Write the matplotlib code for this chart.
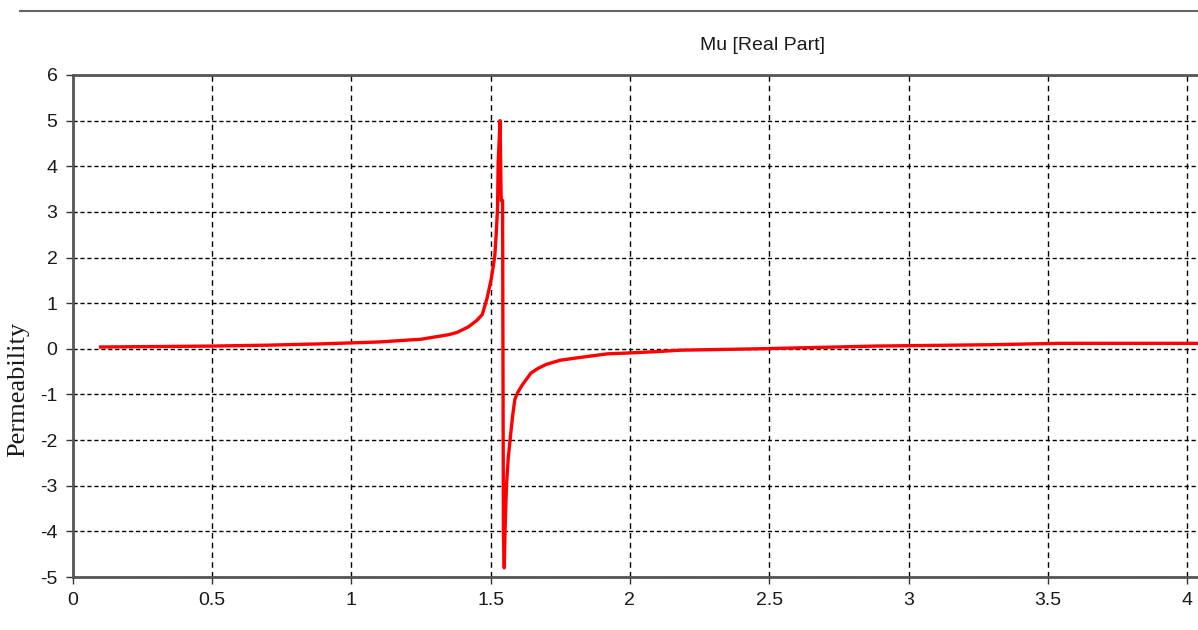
import matplotlib
matplotlib.use('Agg')

import matplotlib.pyplot as plt
from matplotlib.lines import Line2D
from matplotlib.ticker import FormatStrFormatter

# Frequency (x) and real part of permeability
freq = [0.10, 0.30, 0.50, 0.70, 0.90, 1.00, 1.10, 1.20, 1.25, 1.30,
        1.35, 1.38, 1.40, 1.42, 1.45, 1.47, 1.487, 1.503, 1.515, 1.520,
        1.525, 1.527, 1.534, 1.538, 1.543, 1.546, 1.549, 1.552, 1.557, 1.563,
        1.570, 1.579, 1.587, 1.597, 1.615, 1.645, 1.67, 1.70, 1.75, 1.82,
        1.87, 1.92, 2.00, 2.10, 2.18, 2.46, 2.88, 3.30, 3.54, 3.80,
        4.05]
mu_real = [0.04, 0.05, 0.06, 0.08, 0.11, 0.13, 0.15, 0.19, 0.21, 0.26,
           0.31, 0.36, 0.42, 0.48, 0.62, 0.75, 1.10, 1.55, 2.03, 2.50,
           3.10, 4.05, 5.00, 3.25, 3.25, -4.06, -4.80, -3.95, -3.00, -2.42,
           -1.99, -1.47, -1.11, -0.96, -0.78, -0.53, -0.43, -0.34, -0.25, -0.19,
           -0.15, -0.11, -0.09, -0.06, -0.03, 0.00, 0.06, 0.09, 0.12, 0.12,
           0.12]

x_ticks = [0, 0.5, 1, 1.5, 2, 2.5, 3, 3.5, 4]
y_ticks = [-5, -4, -3, -2, -1, 0, 1, 2, 3, 4, 5, 6]

title = "Mu [Real Part]"
y_label = "Permeability"

tick_font = ['Liberation Sans Narrow', 'Liberation Sans', 'DejaVu Sans']
axis_color = '#555555'

fig = plt.figure(figsize=(11.98, 6.30), dpi=100)
# the axes runs past the right edge of the picture, as in the reference
ax = fig.add_axes([72.7 / 1198, 1 - 577 / 630, 1393 / 1198, 502 / 630])

ax.plot(freq, mu_real, color='#ff0000', linewidth=2.4, zorder=3)

ax.set_xlim(0, 5)
ax.set_ylim(-5, 6)
ax.set_xticks(x_ticks)
ax.set_yticks(y_ticks)
ax.xaxis.set_major_formatter(FormatStrFormatter('%g'))
ax.yaxis.set_major_formatter(FormatStrFormatter('%g'))

# dashed grid: longer dashes vertically, short dots horizontally
ax.xaxis.grid(True, color='black', linewidth=1, linestyle=(0, (4, 3)))
ax.yaxis.grid(True, color='black', linewidth=1, linestyle=(0, (3, 2)))
ax.set_axisbelow(True)

for side in ['left', 'top', 'bottom', 'right']:
    ax.spines[side].set_color(axis_color)
    ax.spines[side].set_linewidth(2)

ax.tick_params(direction='out', length=5, width=1, color='#333333',
               labelsize=14, pad=6)
for lbl in ax.get_xticklabels() + ax.get_yticklabels():
    lbl.set_family(tick_font)
    lbl.set_color('#1a1a1a')

fig.text(18 / 1198, 1 - 389 / 630, y_label, rotation=90, ha='center', va='center',
         family=['Liberation Serif', 'DejaVu Serif'], fontsize=19, color='#1a1a1a')

fig.text(762 / 1198, 1 - 45 / 630, title, ha='center', va='center',
         family=tick_font, fontsize=14, color='#1a1a1a')

# thin separator line at the top of the panel
fig.add_artist(Line2D([20 / 1198, 1.0], [1 - 11 / 630, 1 - 11 / 630],
                      transform=fig.transFigure, color='#666666', linewidth=1.5))

plt.savefig('out.png', dpi=100)
